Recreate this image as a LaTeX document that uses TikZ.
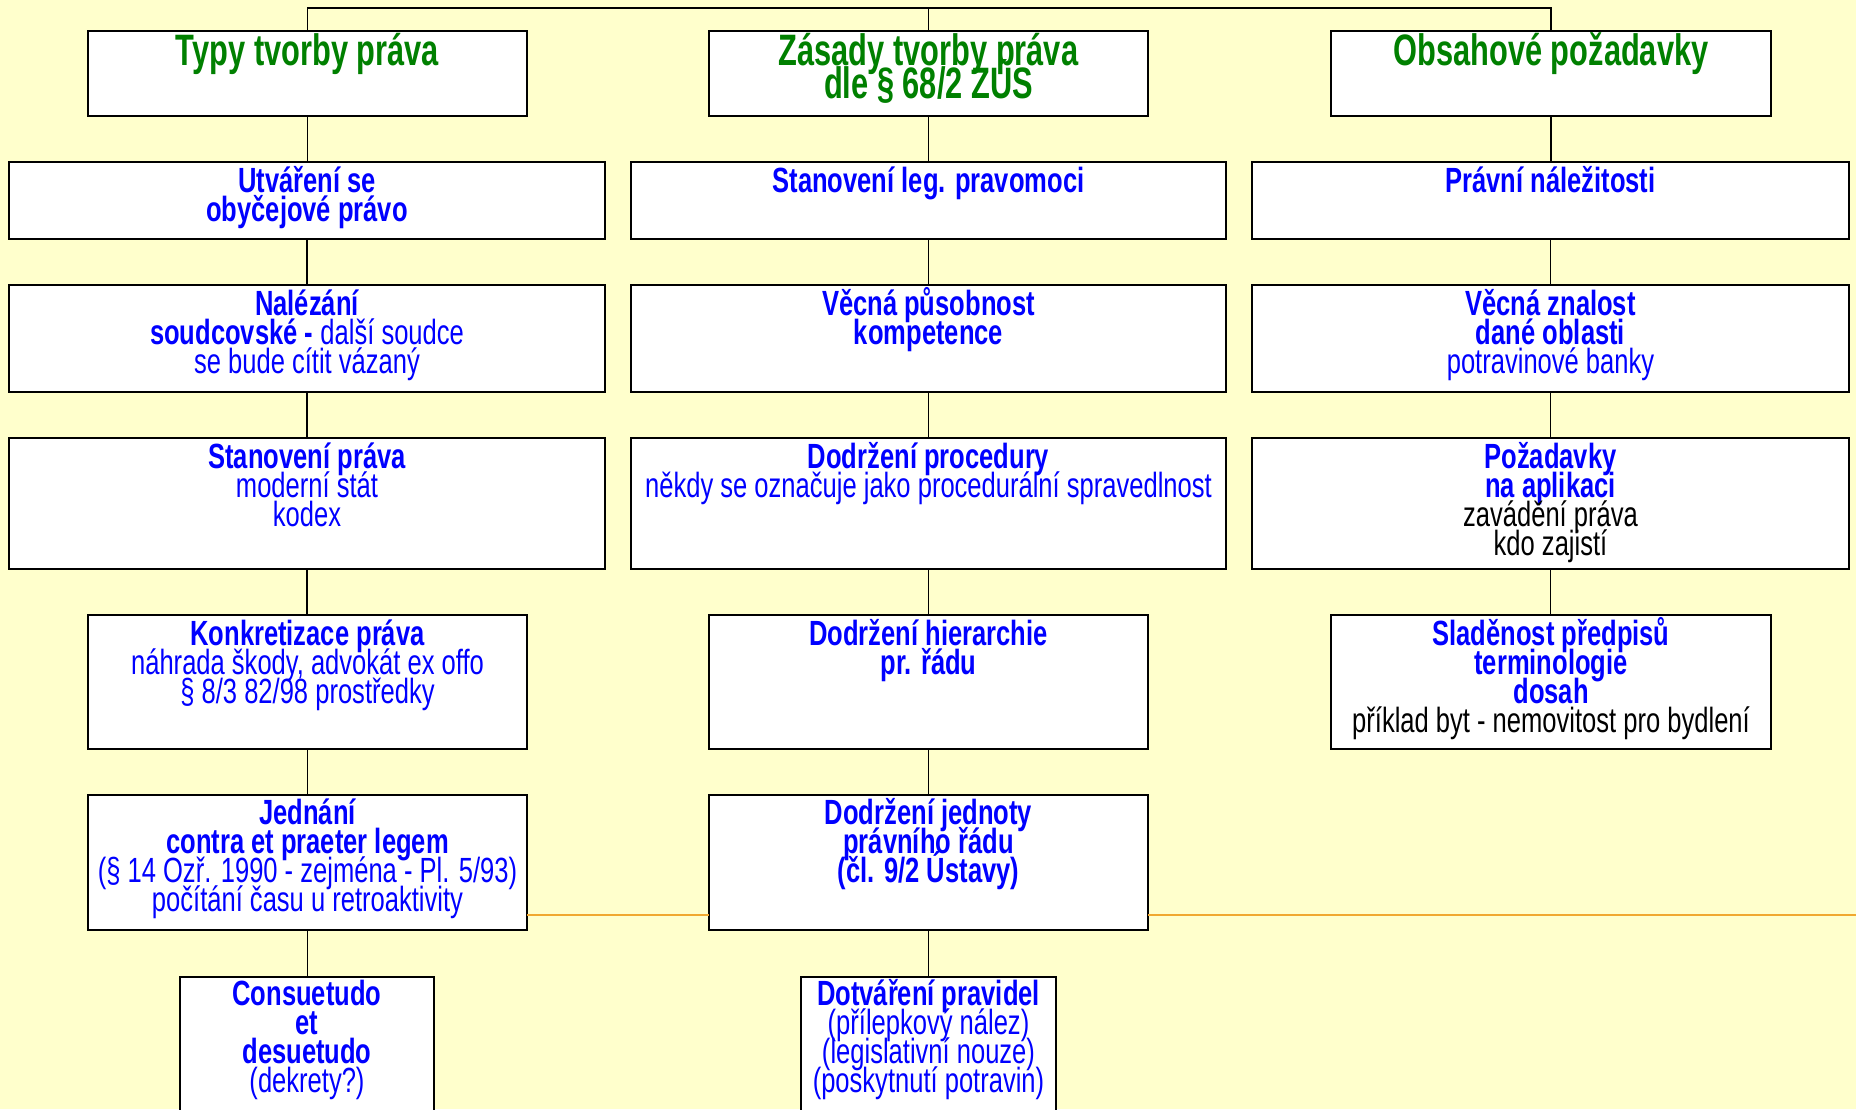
\documentclass[tikz,border=0pt]{standalone}
\usepackage{fontspec}
\newfontfamily\bodyf[FakeStretch=0.73]{Liberation Sans}
\newfontfamily\titlef[FakeStretch=0.70]{Liberation Sans}
\definecolor{bgyellow}{HTML}{FFFFCC}
\definecolor{tgreen}{HTML}{008000}
\definecolor{tblue}{HTML}{0000FF}
\definecolor{orng}{HTML}{F0A830}
\newcommand{\bodytxt}[1]{\parbox[t]{800pt}{\lineskiplimit=-1000pt\lineskip=0pt\centering\bodyf\fontsize{35}{29}\selectfont\leavevmode#1}}
\newcommand{\titletxt}[1]{\parbox[t]{800pt}{\lineskiplimit=-1000pt\lineskip=0pt\centering\titlef\fontsize{44}{33}\selectfont\bfseries\leavevmode#1}}
\begin{document}
\begin{tikzpicture}[x=1pt,y=-1pt,
  box/.style={draw=black, line width=1.6pt, fill=white, rectangle, inner sep=0pt, outer sep=0pt},
  conn/.style={draw=black, line width=1.6pt},
  txt/.style={anchor=base, inner sep=0pt, outer sep=0pt, text=tblue},
  ttl/.style={anchor=base, inner sep=0pt, outer sep=0pt, text=tgreen},
  wideA/.style={box, minimum width=596pt},
  wideB/.style={box, minimum width=595pt},
  wideC/.style={box, minimum width=597pt},
  narrow/.style={box, minimum width=439pt},
  small/.style={box, minimum width=254pt}]
\useasboundingbox (0,0) rectangle (1856,1109);
\clip (0,0) rectangle (1856,1109);
\fill[bgyellow] (0,0) rectangle (1856,1109);

% column 1
\node[narrow, minimum height=85pt]  (b11) at (307.5,73.5) {};
\node[wideA,  minimum height=77pt]  (b12) at (307,200.5) {};
\node[wideA,  minimum height=107pt] (b13) at (307,338.5) {};
\node[wideA,  minimum height=131pt] (b14) at (307,503.5) {};
\node[narrow, minimum height=134pt] (b15) at (307.5,682) {};
\node[narrow, minimum height=135pt] (b16) at (307.5,862.5) {};
\node[small,  minimum height=183pt] (b17) at (307,1068.5) {};
% column 2
\node[narrow, minimum height=85pt]  (b21) at (928.5,73.5) {};
\node[wideB,  minimum height=77pt]  (b22) at (928.5,200.5) {};
\node[wideB,  minimum height=107pt] (b23) at (928.5,338.5) {};
\node[wideB,  minimum height=131pt] (b24) at (928.5,503.5) {};
\node[narrow, minimum height=134pt] (b25) at (928.5,682) {};
\node[narrow, minimum height=135pt] (b26) at (928.5,862.5) {};
\node[box, minimum width=255pt, minimum height=183pt] (b27) at (928.5,1068.5) {};
% column 3
\node[box, minimum width=440pt, minimum height=85pt]  (b31) at (1551,73.5) {};
\node[wideC,  minimum height=77pt]  (b32) at (1550.5,200.5) {};
\node[wideC,  minimum height=107pt] (b33) at (1550.5,338.5) {};
\node[wideC,  minimum height=131pt] (b34) at (1550.5,503.5) {};
\node[box, minimum width=440pt, minimum height=134pt] (b35) at (1551,682) {};

% connectors
\coordinate (topy) at (0,8);
\draw[conn] (b11.north) -- (b11.north |- topy) -- (b31.north |- topy) -- (b31.north);
\draw[conn] (b21.north) -- (b21.north |- topy);
\foreach \c in {1,2}{
  \foreach \a/\b in {1/2,2/3,3/4,4/5,5/6,6/7}{
    \draw[conn] (b\c\a.south) -- (b\c\a.south |- b\c\b.north);
  }
}
\foreach \a/\b in {1/2,2/3,3/4,4/5}{
  \draw[conn] (b3\a.south) -- (b3\a.south |- b3\b.north);
}
% orange line
\coordinate (oy) at (0,915);
\coordinate (oend) at (1856,915);
\draw[orng, line width=2.2pt] (b16.east |- oy) -- (b26.west |- oy);
\draw[orng, line width=2.2pt] (b26.east |- oy) -- (oend);

% texts
\node[ttl] (t11) at ([yshift=-34pt]b11.north) {\titletxt{Typy tvorby práva}};
\node[ttl] (t21) at ([yshift=-34pt]b21.north) {\titletxt{Zásady tvorby práva\\dle § 68/2 ZÚS}};
\node[ttl] (t31) at ([yshift=-34pt]b31.north) {\titletxt{Obsahové požadavky}};

\node[txt] (t12) at ([yshift=-30pt]b12.north) {\bodytxt{\bfseries Utváření se\\obyčejové právo}};
\node[txt] (t13) at ([yshift=-30pt]b13.north) {\bodytxt{{\bfseries Nalézání}\\{\bfseries soudcovské -} další soudce\\se bude cítit vázaný}};
\node[txt] (t14) at ([yshift=-30pt]b14.north) {\bodytxt{{\bfseries Stanovení práva}\\moderní stát\\kodex}};
\node[txt] (t15) at ([yshift=-30pt]b15.north) {\bodytxt{{\bfseries Konkretizace práva}\\náhrada škody, advokát ex offo\\§ 8/3 82/98 prostředky}};
\node[txt] (t16) at ([yshift=-29pt]b16.north) {\bodytxt{{\bfseries Jednání}\\{\bfseries contra et praeter legem}\\(§ 14 Ozř. 1990 - zejména - Pl. 5/93)\\počítání času u retroaktivity}};
\node[txt] (t17) at ([yshift=-28pt]b17.north) {\bodytxt{{\bfseries Consuetudo}\\{\bfseries et}\\{\bfseries desuetudo}\\(dekrety?)}};

\node[txt] (t22) at ([yshift=-30pt]b22.north) {\bodytxt{\bfseries Stanovení leg. pravomoci}};
\node[txt] (t23) at ([yshift=-30pt]b23.north) {\bodytxt{\bfseries Věcná působnost\\kompetence}};
\node[txt] (t24) at ([yshift=-30pt]b24.north) {\bodytxt{{\bfseries Dodržení procedury}\\někdy se označuje jako procedurální spravedlnost}};
\node[txt] (t25) at ([yshift=-30pt]b25.north) {\bodytxt{\bfseries Dodržení hierarchie\\pr. řádu}};
\node[txt] (t26) at ([yshift=-29pt]b26.north) {\bodytxt{\bfseries Dodržení jednoty\\právního řádu\\(čl. 9/2 Ústavy)}};
\node[txt] (t27) at ([yshift=-28pt]b27.north) {\bodytxt{{\bfseries Dotváření pravidel}\\(přílepkový nález)\\(legislativní nouze)\\(poskytnutí potravin)}};

\node[txt] (t32) at ([yshift=-30pt]b32.north) {\bodytxt{\bfseries Právní náležitosti}};
\node[txt] (t33) at ([yshift=-30pt]b33.north) {\bodytxt{{\bfseries Věcná znalost}\\{\bfseries dané oblasti}\\potravinové banky}};
\node[txt] (t34) at ([yshift=-30pt]b34.north) {\bodytxt{{\bfseries Požadavky}\\{\bfseries na aplikaci}\\{\color{black}zavádění práva}\\{\color{black}kdo zajistí}}};
\node[txt] (t35) at ([yshift=-30pt]b35.north) {\bodytxt{{\bfseries Sladěnost předpisů}\\{\bfseries terminologie}\\{\bfseries dosah}\\{\color{black}příklad byt - nemovitost pro bydlení}}};
\end{tikzpicture}
\end{document}
